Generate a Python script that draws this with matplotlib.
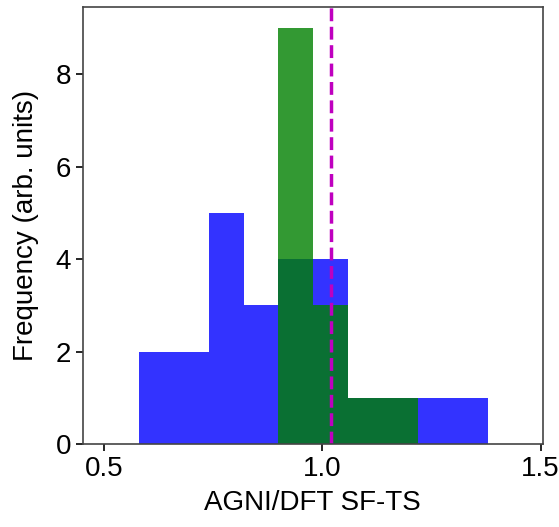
import numpy as np
import matplotlib
matplotlib.use('Agg')
import matplotlib.pyplot as plt

plt.rcParams['font.family'] = ['Liberation Sans', 'DejaVu Sans']

# bin edges and counts (bin width 0.08)
bin_edges = [0.58, 0.66, 0.74, 0.82, 0.90, 0.98, 1.06, 1.14, 1.22, 1.30, 1.38]
counts_blue = [2, 2, 5, 3, 4, 4, 1, 1, 1, 1]
counts_green = [0, 0, 0, 0, 9, 3, 1, 1, 0, 0]
ref_value = 1.021

centers = [(a + b) / 2 for a, b in zip(bin_edges[:-1], bin_edges[1:])]

fig = plt.figure(figsize=(5.59, 5.27), dpi=100)
ax = fig.add_axes([0.148, 0.157, 0.823, 0.830])

ax.hist(centers, bins=bin_edges, weights=counts_blue, color='blue', alpha=0.8)
ax.hist(centers, bins=bin_edges, weights=counts_green, color='green', alpha=0.8)
ax.axvline(ref_value, color='m', linestyle='--', linewidth=2.5)

ax.set_xlim(0.452, 1.505)
ax.set_xticks([0.5, 1.0, 1.5])
ax.set_yticks([0, 2, 4, 6, 8])
ax.tick_params(labelsize=20, length=5, width=1.2)
ax.set_xlabel('AGNI/DFT SF-TS', fontsize=20, labelpad=6)
ax.set_ylabel('Frequency (arb. units)', fontsize=20, labelpad=12)
for s in ax.spines.values():
    s.set_color('#444444')
    s.set_linewidth(1.2)

fig.savefig('out.png', dpi=100)
